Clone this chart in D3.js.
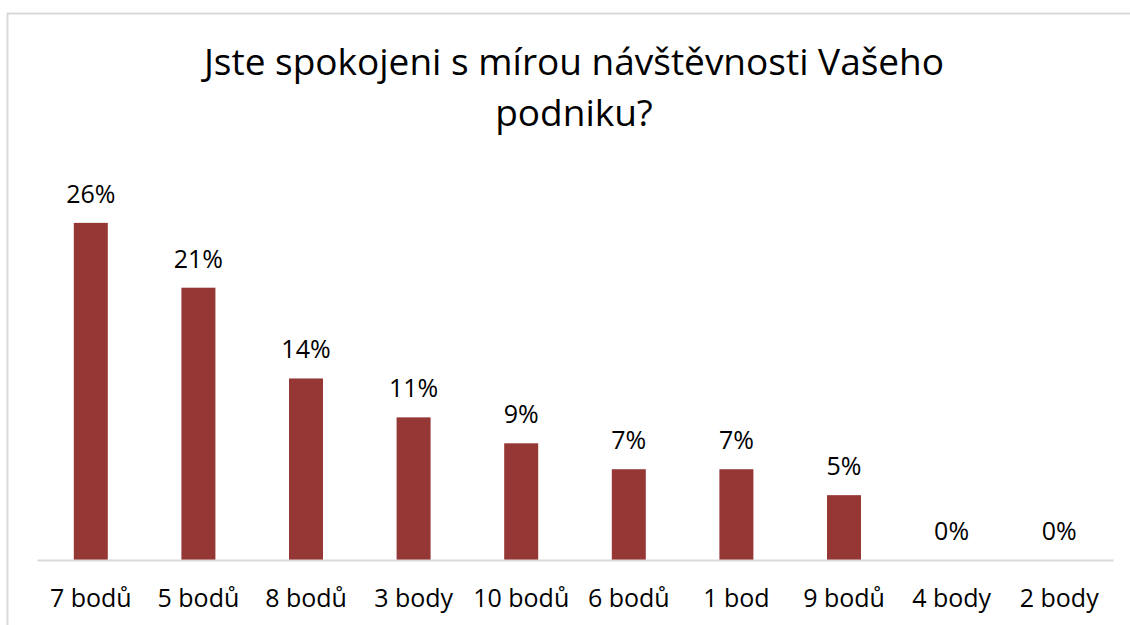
<!DOCTYPE html>
<html>
<head>
<meta charset="utf-8">
<script src="https://cdn.jsdelivr.net/npm/d3@7"></script>
<style>
  body { margin: 0; background: #fff; }
  text { font-family: "Open Sans", sans-serif; fill: #000; }
</style>
</head>
<body>
<div id="chart"></div>
<script>
const width = 1130;
const height = 625;

// data
const categories = ["7 bodů", "5 bodů", "8 bodů", "3 body", "10 bodů", "6 bodů", "1 bod", "9 bodů", "4 body", "2 body"];
const values = [26, 21, 14, 11, 9, 7, 7, 5, 0, 0];
const titleLines = ["Jste spokojeni s mírou návštěvnosti Vašeho", "podniku?"];

const data = categories.map((c, i) => ({ cat: c, val: values[i] }));

const plot = { left: 37, right: 1113, top: 171, bottom: 560 };

const svg = d3.select("#chart").append("svg")
    .attr("width", width)
    .attr("height", height);

// outer chart border (runs off the canvas right/bottom)
svg.append("rect")
    .attr("x", 7.5).attr("y", 13.5)
    .attr("width", width).attr("height", height)
    .attr("fill", "none")
    .attr("stroke", "#d9d9d9")
    .attr("stroke-width", 2);

const xScale = d3.scaleBand()
    .domain(categories)
    .range([plot.left, plot.right])
    .paddingInner(0.684)
    .paddingOuter(0.342);

const yScale = d3.scaleLinear()
    .domain([0, 30])
    .range([plot.bottom, plot.top]);

// title
svg.append("g").selectAll("text")
    .data(titleLines)
    .join("text")
    .attr("x", 574)
    .attr("y", (d, i) => 75 + i * 51)
    .attr("text-anchor", "middle")
    .attr("font-size", 37)
    .text(d => d);

// bars
svg.append("g").selectAll("rect")
    .data(data)
    .join("rect")
    .attr("x", d => xScale(d.cat))
    .attr("y", d => yScale(d.val))
    .attr("width", xScale.bandwidth())
    .attr("height", d => yScale(0) - yScale(d.val))
    .attr("fill", "#953735");

// baseline axis
const xAxis = d3.axisBottom(xScale).tickSize(0).tickPadding(29);
const axisG = svg.append("g")
    .attr("transform", `translate(0,${plot.bottom})`)
    .call(xAxis);
axisG.select(".domain").attr("stroke", "#d9d9d9").attr("stroke-width", 2);
axisG.selectAll(".tick text")
    .attr("font-size", 25)
    .attr("font-family", "Open Sans, sans-serif")
    .attr("fill", "#000");

// value labels
svg.append("g").selectAll("text")
    .data(data)
    .join("text")
    .attr("x", d => xScale(d.cat) + xScale.bandwidth() / 2)
    .attr("y", d => yScale(d.val) - 20)
    .attr("text-anchor", "middle")
    .attr("font-size", 25)
    .text(d => d.val + "%");
</script>
</body>
</html>
